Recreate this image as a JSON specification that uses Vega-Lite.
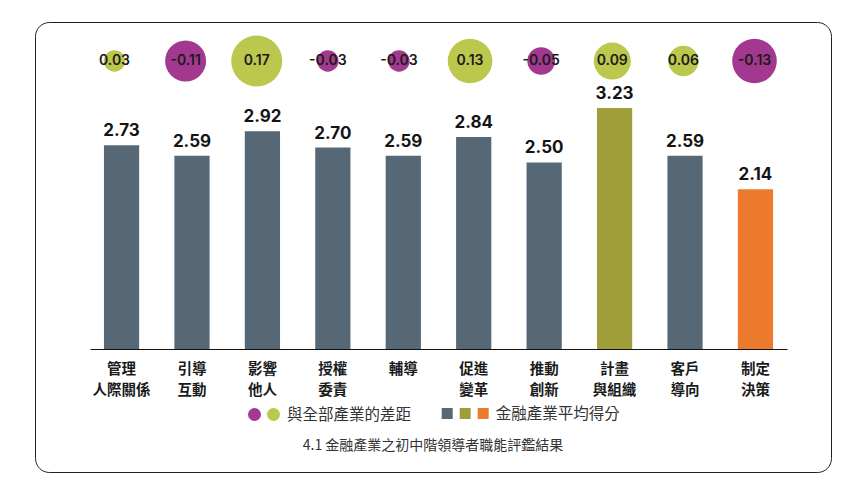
{
  "$schema": "https://vega.github.io/schema/vega-lite/v6.json",
  "width": 796,
  "height": 450,
  "autosize": {"type": "none"},
  "padding": {"left": 35, "top": 22, "right": 30, "bottom": 16},
  "background": "white",
  "config": {
    "view": {"stroke": "#222", "strokeWidth": 1, "cornerRadius": 14},
    "font": "Noto Sans CJK TC"
  },
  "title": {
    "text": "4.1 金融產業之初中階領導者職能評鑑結果",
    "orient": "bottom",
    "anchor": "middle",
    "frame": "group",
    "offset": -33,
    "font": "Noto Sans CJK TC",
    "fontSize": 14,
    "fontWeight": "normal",
    "color": "#333"
  },
  "data": {
    "values": [
      {"label": "管理\n人際關係", "score": 2.73, "diff": 0.03, "rank": "一般"},
      {"label": "引導\n互動", "score": 2.59, "diff": -0.11, "rank": "一般"},
      {"label": "影響\n他人", "score": 2.92, "diff": 0.17, "rank": "一般"},
      {"label": "授權\n委責", "score": 2.70, "diff": -0.03, "rank": "一般"},
      {"label": "輔導", "score": 2.59, "diff": -0.03, "rank": "一般"},
      {"label": "促進\n變革", "score": 2.84, "diff": 0.13, "rank": "一般"},
      {"label": "推動\n創新", "score": 2.50, "diff": -0.05, "rank": "一般"},
      {"label": "計畫\n與組織", "score": 3.23, "diff": 0.09, "rank": "最高"},
      {"label": "客戶\n導向", "score": 2.59, "diff": 0.06, "rank": "一般"},
      {"label": "制定\n決策", "score": 2.14, "diff": -0.13, "rank": "最低"}
    ]
  },
  "transform": [
    {"calculate": "abs(datum.diff)", "as": "absdiff"},
    {"calculate": "datum.diff < 0 ? 'neg' : 'pos'", "as": "sign"},
    {"calculate": "replace(format(datum.diff, '.2f'), '\u2212', '-')", "as": "difftext"}
  ],
  "resolve": {"scale": {"x": "independent"}},
  "layer": [
    {
      "encoding": {
        "x": {
          "field": "label",
          "type": "nominal",
          "sort": null,
          "scale": {"type": "band", "range": [55, 752], "paddingInner": 0.5, "paddingOuter": 0.198},
          "axis": {
            "title": null,
            "orient": "bottom",
            "offset": -123,
            "domainColor": "#111",
            "domainWidth": 1,
            "ticks": false,
            "labelAngle": 0,
            "labelPadding": 13,
            "labelFont": "Noto Sans CJK TC",
            "labelFontSize": 14.5,
            "labelFontWeight": "bold",
            "labelColor": "#1a1a1a",
            "labelLineHeight": 21,
            "labelBaseline": "top",
            "labelExpr": "split(datum.label, '\\n')"
          }
        },
        "y": {
          "field": "score",
          "type": "quantitative",
          "scale": {"domain": [-1.649, 4.383], "nice": false, "zero": false},
          "axis": null
        }
      },
      "layer": [
        {
          "mark": {"type": "bar"},
          "encoding": {
            "color": {
              "field": "rank",
              "type": "nominal",
              "scale": {"domain": ["一般", "最高", "最低"], "range": ["#566875", "#A09D3B", "#EC7B2E"]},
              "legend": {
                "orient": "none",
                "legendX": 406.7,
                "legendY": 386,
                "direction": "horizontal",
                "title": "金融產業平均得分",
                "titleOrient": "right",
                "titlePadding": 7,
                "titleFont": "Noto Sans CJK TC",
                "titleFontSize": 15.5,
                "titleFontWeight": "normal",
                "titleColor": "#333",
                "titleBaseline": "middle",
                "titleAnchor": "middle",
                "symbolType": "square",
                "symbolSize": 121,
                "symbolStrokeWidth": 0,
                "labelOffset": 0,
                "columnPadding": 7,
                "padding": 0,
                "labelExpr": "''"
              }
            }
          }
        },
        {
          "mark": {"type": "text", "dy": -9, "baseline": "alphabetic", "font": "Inter", "fontSize": 17, "fontWeight": 700, "color": "#141414"},
          "encoding": {
            "text": {"field": "score", "type": "quantitative", "format": ".2f"}
          }
        }
      ]
    },
    {
      "encoding": {
        "x": {
          "field": "label",
          "type": "nominal",
          "sort": null,
          "scale": {"type": "point", "range": [79.5, 719.5], "padding": 0},
          "axis": null
        },
        "y": {"datum": 3.86, "type": "quantitative"}
      },
      "layer": [
        {
          "mark": {"type": "circle", "opacity": 1},
          "encoding": {
            "size": {
              "field": "absdiff",
              "type": "quantitative",
              "scale": {"domain": [0, 0.17], "range": [0, 2601]},
              "legend": null
            },
            "fill": {
              "field": "sign",
              "type": "nominal",
              "scale": {"domain": ["neg", "pos"], "range": ["#A2388F", "#BCC74E"]},
              "legend": {
                "orient": "none",
                "legendX": 213,
                "legendY": 386,
                "direction": "horizontal",
                "title": "與全部產業的差距",
                "titleOrient": "right",
                "titlePadding": 7,
                "titleFont": "Noto Sans CJK TC",
                "titleFontSize": 15.5,
                "titleFontWeight": "normal",
                "titleColor": "#333",
                "titleBaseline": "middle",
                "titleAnchor": "middle",
                "symbolType": "circle",
                "symbolSize": 169,
                "symbolStrokeWidth": 0,
                "symbolOpacity": 1,
                "labelOffset": 0,
                "columnPadding": 6,
                "padding": 0,
                "labelExpr": "''"
              }
            }
          }
        },
        {
          "mark": {"type": "text", "baseline": "middle", "font": "Inter", "fontSize": 14, "fontWeight": 600, "color": "#1a1a1a"},
          "encoding": {
            "text": {"field": "difftext", "type": "nominal"}
          }
        }
      ]
    }
  ]
}
